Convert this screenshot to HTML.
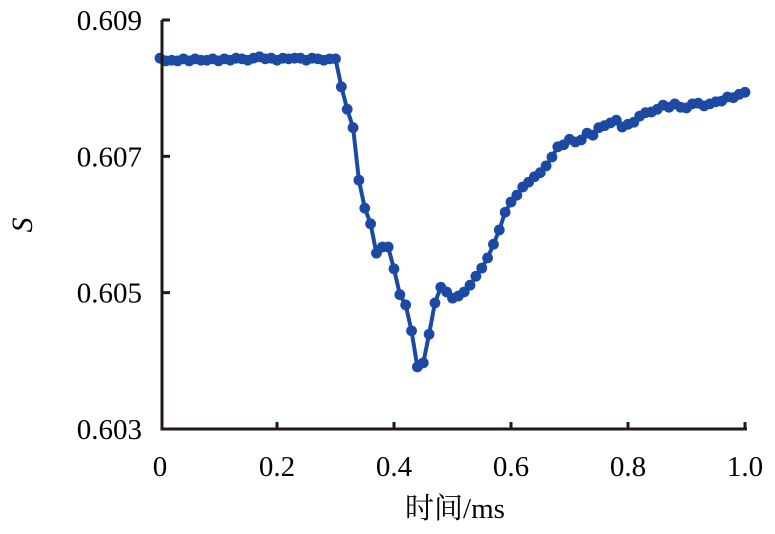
<!DOCTYPE html>
<html><head><meta charset="utf-8"><style>
body{margin:0;background:#fff}
svg text{font-family:"Liberation Serif","Noto Serif CJK SC",serif;fill:#000}
</style></head><body>
<svg width="775" height="529" viewBox="0 0 775 529" xmlns="http://www.w3.org/2000/svg">
<g id="plot"></g>
<g id="axes"></g>
<text x="32" y="225" font-size="30" font-style="italic" text-anchor="middle" transform="rotate(-90 32 225)">S</text>
<text x="455" y="518" font-size="29" text-anchor="middle">时间/ms</text>
</svg>
<script>
const xTicks=[0,0.2,0.4,0.6,0.8,1.0];
const xTickLabels=["0","0.2","0.4","0.6","0.8","1.0"];
const yTicks=[0.603,0.605,0.607,0.609];
const yTickLabels=["0.603","0.605","0.607","0.609"];
const sValues=[0.60844,0.60840,0.60841,0.60840,0.60843,0.60840,0.60843,0.60841,0.60841,0.60843,0.60840,0.60843,0.60841,0.60844,0.60843,0.60841,0.60844,0.60846,0.60843,0.60844,0.60841,0.60844,0.60843,0.60844,0.60844,0.60841,0.60844,0.60843,0.60841,0.60843,0.60843,
0.60802,0.60769,0.60742,0.60665,0.60624,0.60601,0.60558,0.60567,0.60567,0.60535,0.60497,0.60482,0.60444,0.60391,0.60397,0.60439,0.60485,0.60508,0.60501,0.60492,0.60495,0.60501,0.60511,0.60524,0.60536,0.60551,0.60571,0.60592,0.60618,0.60633,0.60643,0.60655,0.60662,0.60670,0.60676,0.60686,0.60699,0.60714,0.60717,0.60725,0.60721,0.60724,0.60734,0.60731,0.60742,0.60745,0.60749,0.60753,0.60743,0.60747,0.60750,0.60759,0.60764,0.60765,0.60769,0.60775,0.60772,0.60777,0.60772,0.60771,0.60777,0.60778,0.60774,0.60777,0.60780,0.60781,0.60787,0.60786,0.60791,0.60794];
const timeValues=sValues.map((_,i)=>i/100);

const NS="http://www.w3.org/2000/svg";
const X0=160,X1=745,Y0=429,Y1=20;
const xS=v=>X0+(v-0)/(1-0)*(X1-X0);
const yS=v=>Y0-(v-0.603)/(0.609-0.603)*(Y0-Y1);
function mk(tag,attrs,parent){const e=document.createElementNS(NS,tag);for(const k in attrs)e.setAttribute(k,attrs[k]);parent.appendChild(e);return e;}
const axes=document.getElementById('axes'),plot=document.getElementById('plot');
let el=mk('line',{x1:162,y1:Y1,x2:162,y2:Y0+1,stroke:'#231815','stroke-width':3},axes);


el=mk('line',{x1:160.5,y1:Y0,x2:X1+2,y2:Y0,stroke:'#231815','stroke-width':3},axes);


yTicks.forEach((t,i)=>{const y=yS(t);
 let tk=mk('line',{x1:162,y1:y,x2:170,y2:y,stroke:'#231815','stroke-width':3},axes);
 
 
 let tx=mk('text',{x:142,y:y+10,'font-size':29,'text-anchor':'end'},axes);tx.textContent=yTickLabels[i];
 
 
});
xTicks.forEach((t,i)=>{const x=xS(t);
 if(i>0){let tk=mk('line',{x1:x,y1:Y0,x2:x,y2:Y0-7,stroke:'#231815','stroke-width':3},axes);
 
 }
 let tx=mk('text',{x:x,y:476,'font-size':29,'text-anchor':'middle'},axes);tx.textContent=xTickLabels[i];
 
 
});
const pts=sValues.map((v,i)=>xS(timeValues[i]).toFixed(1)+','+yS(v).toFixed(1)).join(' ');
el=mk('polyline',{points:pts,fill:'none',stroke:'#1c49a3','stroke-width':4,'stroke-linejoin':'round'},plot);


sValues.forEach((v,i)=>{
 const c=mk('circle',{cx:xS(timeValues[i]),cy:yS(v),r:5.4,fill:'#1c49a3'},plot);
 
 
});
</script>
</body></html>
